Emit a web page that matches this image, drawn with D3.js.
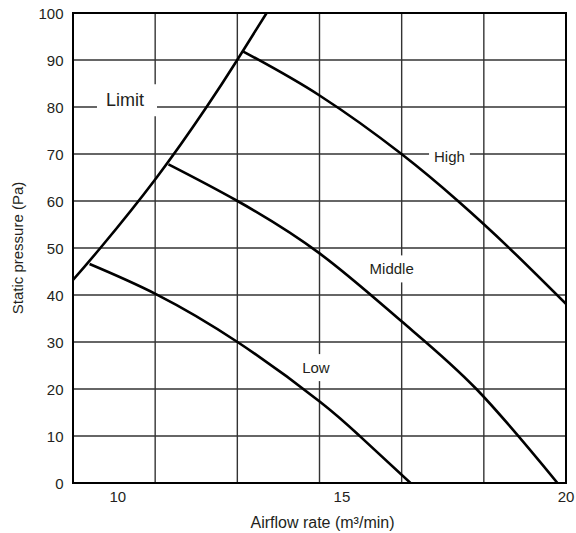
<!DOCTYPE html>
<html>
<head>
<meta charset="utf-8">
<script src="https://cdn.jsdelivr.net/npm/d3@7"></script>
<style>
body { margin: 0; background: #fff; }
text { font-family: "Liberation Sans", Arial, sans-serif; fill: #231f20; }
</style>
</head>
<body>
<div id="chart"></div>
<script>
// values
const xTicks = [10, 15, 20];
const yTicks = [0, 10, 20, 30, 40, 50, 60, 70, 80, 90, 100];

const limitCurve = [[9, 43.2], [9.61, 50], [10.85, 64.8], [11.98, 80], [12.65, 89.8], [13.32, 100]];
const highCurve = [[12.8, 91.8], [14.51, 82.4], [16.33, 70], [17.59, 60], [18.7, 50.3], [20, 38.1]];
const middleCurve = [[11.13, 67.8], [12.67, 60], [14.51, 48.8], [16.33, 34.4], [18.0, 20], [19.81, 0]];
const lowCurve = [[9.37, 46.6], [10.85, 40.2], [12.67, 30], [14.51, 17.3], [15.43, 9.7], [16.53, 0]];

const labelNames = ["Limit", "High", "Middle", "Low"];
const labelPos = [[10.16, 81.5], [17.4, 69.5], [16.11, 45.5], [14.42, 24.5]];

const margin = {top: 13, right: 10, bottom: 50, left: 73};
const width = 576 - margin.left - margin.right;
const height = 533 - margin.top - margin.bottom;

const svg = d3.select("#chart")
    .append("svg")
    .attr("width", 576)
    .attr("height", 533)
    .append("g")
    .attr("transform", "translate(" + margin.left + "," + margin.top + ")");

// scales
const x = d3.scaleLinear().domain([9, 20]).range([0, width]);
const y = d3.scaleLinear().domain([0, 100]).range([height, 0]);
// grid columns split the plot in six equal parts
const gx = d3.scaleLinear().domain([0, 6]).range([0, width]);

// grid
svg.append("g")
    .selectAll("line")
    .data(d3.range(1, 6))
    .enter().append("line")
    .attr("x1", d => gx(d)).attr("x2", d => gx(d))
    .attr("y1", 0).attr("y2", height)
    .attr("stroke", "#333").attr("stroke-width", 1.4);

svg.append("g")
    .selectAll("line")
    .data(yTicks.slice(1, -1))
    .enter().append("line")
    .attr("x1", 0).attr("x2", width)
    .attr("y1", d => y(d)).attr("y2", d => y(d))
    .attr("stroke", "#333").attr("stroke-width", 1.4);

// curve labels with white boxes that cut the grid
const labels = svg.append("g");
labelNames.forEach((name, i) => {
    const g = labels.append("g");
    const big = name == "Limit";
    const t = g.append("text")
        .attr("x", x(labelPos[i][0]))
        .attr("y", y(labelPos[i][1]))
        .attr("dy", "0.35em")
        .attr("text-anchor", "middle")
        .style("font-size", big ? "18px" : "15px")
        .text(name);
    const b = t.node().getBBox();
    const padL = big ? 9 : 5, padR = big ? 13 : 5, padY = big ? 6 : 5;
    g.insert("rect", "text")
        .attr("x", b.x - padL).attr("y", b.y - padY)
        .attr("width", b.width + padL + padR).attr("height", b.height + 2 * padY)
        .attr("fill", "#fff");
});

// curves
svg.append("clipPath").attr("id", "plot")
    .append("rect").attr("width", width).attr("height", height);

const line = d3.line()
    .x(d => x(d[0]))
    .y(d => y(d[1]))
    .curve(d3.curveNatural);

svg.append("g")
    .attr("clip-path", "url(#plot)")
    .selectAll("path")
    .data([limitCurve, highCurve, middleCurve, lowCurve])
    .enter().append("path")
    .attr("d", line)
    .attr("fill", "none")
    .attr("stroke", "#000")
    .attr("stroke-width", 2.6);

// frame
svg.append("rect")
    .attr("width", width).attr("height", height)
    .attr("fill", "none").attr("stroke", "#000").attr("stroke-width", 2);

// tick labels
svg.append("g")
    .selectAll("text")
    .data(yTicks)
    .enter().append("text")
    .attr("x", -9.5)
    .attr("y", d => y(d) + 1)
    .attr("dy", "0.35em")
    .attr("text-anchor", "end")
    .style("font-size", "15px")
    .text(d => d);

svg.append("g")
    .selectAll("text")
    .data(xTicks)
    .enter().append("text")
    .attr("x", d => x(d))
    .attr("y", height + 19)
    .attr("text-anchor", "middle")
    .style("font-size", "15px")
    .text(d => d);

// axis titles
svg.append("text")
    .attr("x", width / 2 + 3)
    .attr("y", height + 44.5)
    .attr("text-anchor", "middle")
    .style("font-size", "16px")
    .text("Airflow rate (m³/min)");

svg.append("text")
    .attr("transform", "translate(" + (23 - margin.left) + "," + (height / 2) + ") rotate(-90)")
    .attr("text-anchor", "middle")
    .style("font-size", "15px")
    .text("Static pressure (Pa)");
</script>
</body>
</html>
